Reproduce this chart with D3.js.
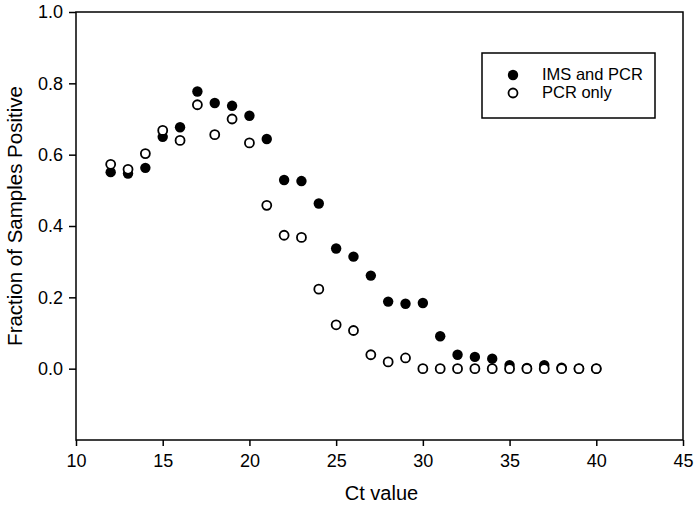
<!DOCTYPE html>
<html><head><meta charset="utf-8">
<script src="https://cdn.jsdelivr.net/npm/d3@7"></script>
<style>body{margin:0;background:#fff;} text{font-family:"Liberation Sans",Arial,sans-serif;}</style>
</head><body>
<svg id="c" width="696" height="506"></svg>
<script>
const ctValues = [12,13,14,15,16,17,18,19,20,21,22,23,24,25,26,27,28,29,30,31,32,33,34,35,36,37,38,39,40];
const imsAndPcr = [0.551,0.547,0.563,0.650,0.677,0.777,0.745,0.737,0.709,0.644,0.529,0.526,0.463,0.337,0.314,0.261,0.188,0.182,0.184,0.091,0.039,0.033,0.028,0.010,0.002,0.010,0.003,0.000,0.000];
const pcrOnly = [0.573,0.559,0.603,0.668,0.640,0.740,0.656,0.700,0.633,0.458,0.374,0.368,0.223,0.123,0.107,0.039,0.019,0.030,0,0,0,0,0,0,0,0,0,0,0];
const xTicks = [10,15,20,25,30,35,40,45];
const yTicks = [0.0,0.2,0.4,0.6,0.8,1.0];
const seriesNames = ["IMS and PCR","PCR only"];

(function(){
const svg = d3.select("#c");
const pL=76, pR=683, pT=12, pB=440;
const x = d3.scaleLinear().domain([10,45]).range([pL,pR]);
const y = d3.scaleLinear().domain([-0.2,1.0]).range([pB,pT]);

svg.append("rect").attr("x",pL).attr("y",pT).attr("width",pR-pL).attr("height",pB-pT)
  .attr("fill","none").attr("stroke","#000").attr("stroke-width",1.5);

const xa = svg.append("g").attr("transform",`translate(0,${pB})`)
  .call(d3.axisBottom(x).tickValues(xTicks).tickFormat(d3.format("d")).tickSize(6).tickPadding(8));
const ya = svg.append("g").attr("transform",`translate(${pL},0)`)
  .call(d3.axisLeft(y).tickValues(yTicks).tickFormat(d3.format(".1f")).tickSize(7).tickPadding(6));
[xa,ya].forEach(a=>{
  a.select(".domain").remove();
  a.selectAll("line").attr("stroke","#000").attr("stroke-width",1.5);
  a.selectAll("text").attr("font-size",18).attr("fill","#000").style("font-family","'Liberation Sans',Arial,sans-serif");
});

svg.append("text").attr("x",(pL+pR)/2 + 2).attr("y",500).attr("text-anchor","middle")
  .attr("font-size",20).text("Ct value");
svg.append("text").attr("transform",`translate(22,216) rotate(-90)`).attr("text-anchor","middle")
  .attr("font-size",20.5).text("Fraction of Samples Positive");

const filledData = ctValues.map((c,i)=>({c,v:imsAndPcr[i]}));
const openData = ctValues.map((c,i)=>({c,v:pcrOnly[i]}));

svg.append("g").selectAll("circle").data(filledData).join("circle")
  .attr("cx",d=>x(d.c)).attr("cy",d=>y(d.v)).attr("r",5.2).attr("fill","#000");
svg.append("g").selectAll("circle").data(openData).join("circle")
  .attr("cx",d=>x(d.c)).attr("cy",d=>y(d.v)).attr("r",4.5).attr("fill","#fff").attr("stroke","#000").attr("stroke-width",1.8);

const lg = svg.append("g");
lg.append("rect").attr("x",482).attr("y",53).attr("width",173).attr("height",65)
  .attr("fill","#fff").attr("stroke","#000").attr("stroke-width",1.5);
lg.append("circle").attr("cx",513).attr("cy",75).attr("r",5.2).attr("fill","#000");
lg.append("circle").attr("cx",513).attr("cy",93).attr("r",4.5).attr("fill","#fff").attr("stroke","#000").attr("stroke-width",1.8);
lg.selectAll("text.l").data(seriesNames).join("text").attr("class","l")
  .attr("x",542).attr("y",(d,i)=>80+i*18).attr("font-size",16.5).text(d=>d);
})();
</script>
</body></html>
